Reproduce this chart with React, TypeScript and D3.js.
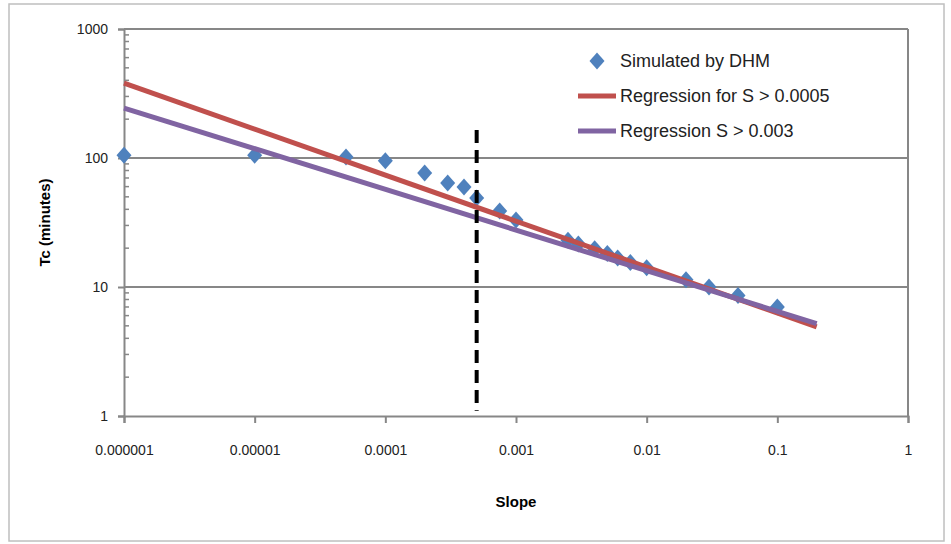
import * as d3 from 'd3';
import React, { useRef, useEffect } from 'react';

// simulated Tc (minutes) vs slope
const slopes = [0.000001, 0.00001, 0.00005, 0.0001, 0.0002, 0.0003, 0.0004, 0.0005, 0.00075, 0.001,
  0.0025, 0.003, 0.004, 0.005, 0.006, 0.0075, 0.01, 0.02, 0.03, 0.05, 0.1];
const tcMinutes = [105, 105, 102, 95, 76.5, 64, 59.6, 49, 38.8, 33,
  23, 21.5, 19.8, 18.2, 16.8, 15.5, 14.1, 11.4, 10, 8.6, 7];

// regression lines, end points
const regSlopes = [0.000001, 0.2];
const regRedTc = [381, 4.9];
const regPurpleTc = [244, 5.2];

// threshold marker
const thresholdSlope = 0.0005;
const thresholdTc = [165, 1.1];

const xTicks = [0.000001, 0.00001, 0.0001, 0.001, 0.01, 0.1, 1];
const xTickLabels = ['0.000001', '0.00001', '0.0001', '0.001', '0.01', '0.1', '1'];
const yTicks = [1, 10, 100, 1000];

const legendItems = ['Simulated by DHM', 'Regression for S > 0.0005', 'Regression S > 0.003'];

function App() {
  const ref = useRef<SVGSVGElement>(null);
  const width = 951, height = 544;
  const margin = { top: 29, right: 43, bottom: 128, left: 124 };
  const font = "'Liberation Sans Narrow', 'Liberation Sans', sans-serif";
  const blue = '#4F81BD', red = '#C0504D', purple = '#8064A2', gray = '#878787';

  useEffect(() => {
    const svg = d3.select(ref.current);
    svg.selectAll('*').remove();

    const x = d3.scaleLog().domain([1e-6, 1]).range([margin.left, width - margin.right]);
    const y = d3.scaleLog().domain([1, 1000]).range([height - margin.bottom, margin.top]);

    // outer frame
    svg.append('rect')
      .attr('x', 9).attr('y', 4).attr('width', 935).attr('height', 537)
      .attr('fill', 'white').attr('stroke', '#BFBFBF').attr('stroke-width', 1.5);

    // gridlines
    svg.append('g').selectAll('line').data(yTicks.slice(1)).enter().append('line')
      .attr('x1', x(1e-6)).attr('x2', x(1))
      .attr('y1', d => y(d)).attr('y2', d => y(d))
      .attr('stroke', gray).attr('stroke-width', 2);
    // right border of plot area
    svg.append('line')
      .attr('x1', x(1)).attr('x2', x(1)).attr('y1', y(1000)).attr('y2', y(1))
      .attr('stroke', gray).attr('stroke-width', 2);

    // y axis
    const yAxis = d3.axisLeft(y).tickValues(yTicks).tickFormat(d => String(d)).tickSize(6).tickPadding(10);
    const gy = svg.append('g')
      .attr('transform', `translate(${margin.left},0)`)
      .call(yAxis);
    gy.select('.domain').attr('stroke', gray).attr('stroke-width', 2);
    gy.selectAll('.tick line').attr('stroke', gray).attr('stroke-width', 2);
    gy.selectAll('.tick text').style('font-family', font).style('font-size', '14px').attr('fill', '#222');

    // y minor ticks
    const minors: number[] = [];
    [1, 10, 100].forEach(dec => { for (let k = 2; k <= 9; k++) minors.push(dec * k); });
    svg.append('g').selectAll('line').data(minors).enter().append('line')
      .attr('x1', margin.left).attr('x2', margin.left + 5)
      .attr('y1', d => y(d)).attr('y2', d => y(d))
      .attr('stroke', gray).attr('stroke-width', 1.5);

    // x axis
    const xAxis = d3.axisBottom(x).tickValues(xTicks).tickFormat((d, i) => xTickLabels[i]).tickSize(7).tickPadding(22);
    const gx = svg.append('g')
      .attr('transform', `translate(0,${height - margin.bottom})`)
      .call(xAxis);
    gx.select('.domain').attr('stroke', gray).attr('stroke-width', 2);
    gx.selectAll('.tick line').attr('stroke', gray).attr('stroke-width', 2);
    gx.selectAll('.tick text').style('font-family', font).style('font-size', '14px').attr('fill', '#222');

    // axis titles
    svg.append('text')
      .attr('x', x(0.001)).attr('y', 507)
      .attr('text-anchor', 'middle')
      .style('font-family', font).style('font-size', '15px').style('font-weight', 'bold')
      .text('Slope');
    svg.append('text')
      .attr('transform', `translate(50,${(y(1) + y(1000)) / 2}) rotate(-90)`)
      .attr('text-anchor', 'middle')
      .style('font-family', font).style('font-size', '15px').style('font-weight', 'bold')
      .text('Tc (minutes)');

    // diamonds (squarish like Excel markers)
    const diamond = 'M0,-8.5L7.5,0L0,8.5L-7.5,0Z';
    svg.append('g').selectAll('path').data(slopes).enter().append('path')
      .attr('d', diamond)
      .attr('transform', (d, i) => `translate(${x(d)},${y(tcMinutes[i])})`)
      .attr('fill', blue);

    // regression lines
    const line = d3.line<[number, number]>().x(d => x(d[0])).y(d => y(d[1]));
    svg.append('path')
      .attr('d', line(regSlopes.map((s, i) => [s, regRedTc[i]] as [number, number])))
      .attr('fill', 'none').attr('stroke', red).attr('stroke-width', 5);
    svg.append('path')
      .attr('d', line(regSlopes.map((s, i) => [s, regPurpleTc[i]] as [number, number])))
      .attr('fill', 'none').attr('stroke', purple).attr('stroke-width', 5);

    // threshold line
    svg.append('line')
      .attr('x1', x(thresholdSlope)).attr('x2', x(thresholdSlope))
      .attr('y1', y(thresholdTc[0])).attr('y2', y(thresholdTc[1]))
      .attr('stroke', 'black').attr('stroke-width', 4).attr('stroke-dasharray', '13,7');

    // legend
    const lg = svg.append('g').attr('transform', 'translate(578,61)');
    legendItems.forEach((label, i) => {
      const row = lg.append('g').attr('transform', `translate(0,${i * 35})`);
      if (i === 0) {
        row.append('path').attr('d', diamond).attr('transform', 'translate(19,0)').attr('fill', blue);
      } else {
        row.append('line').attr('x1', 0).attr('x2', 38).attr('y1', 0).attr('y2', 0)
          .attr('stroke', i === 1 ? red : purple).attr('stroke-width', 5);
      }
      row.append('text')
        .attr('x', 42).attr('y', 0).attr('dy', '0.35em')
        .style('font-family', font).style('font-size', '18px').attr('fill', '#222')
        .text(label);
    });
  });

  return (
    <svg ref={ref} width={width} height={height}
      style={{ position: 'absolute', left: 0, top: 0, background: 'white' }} />
  );
}

export default App;
